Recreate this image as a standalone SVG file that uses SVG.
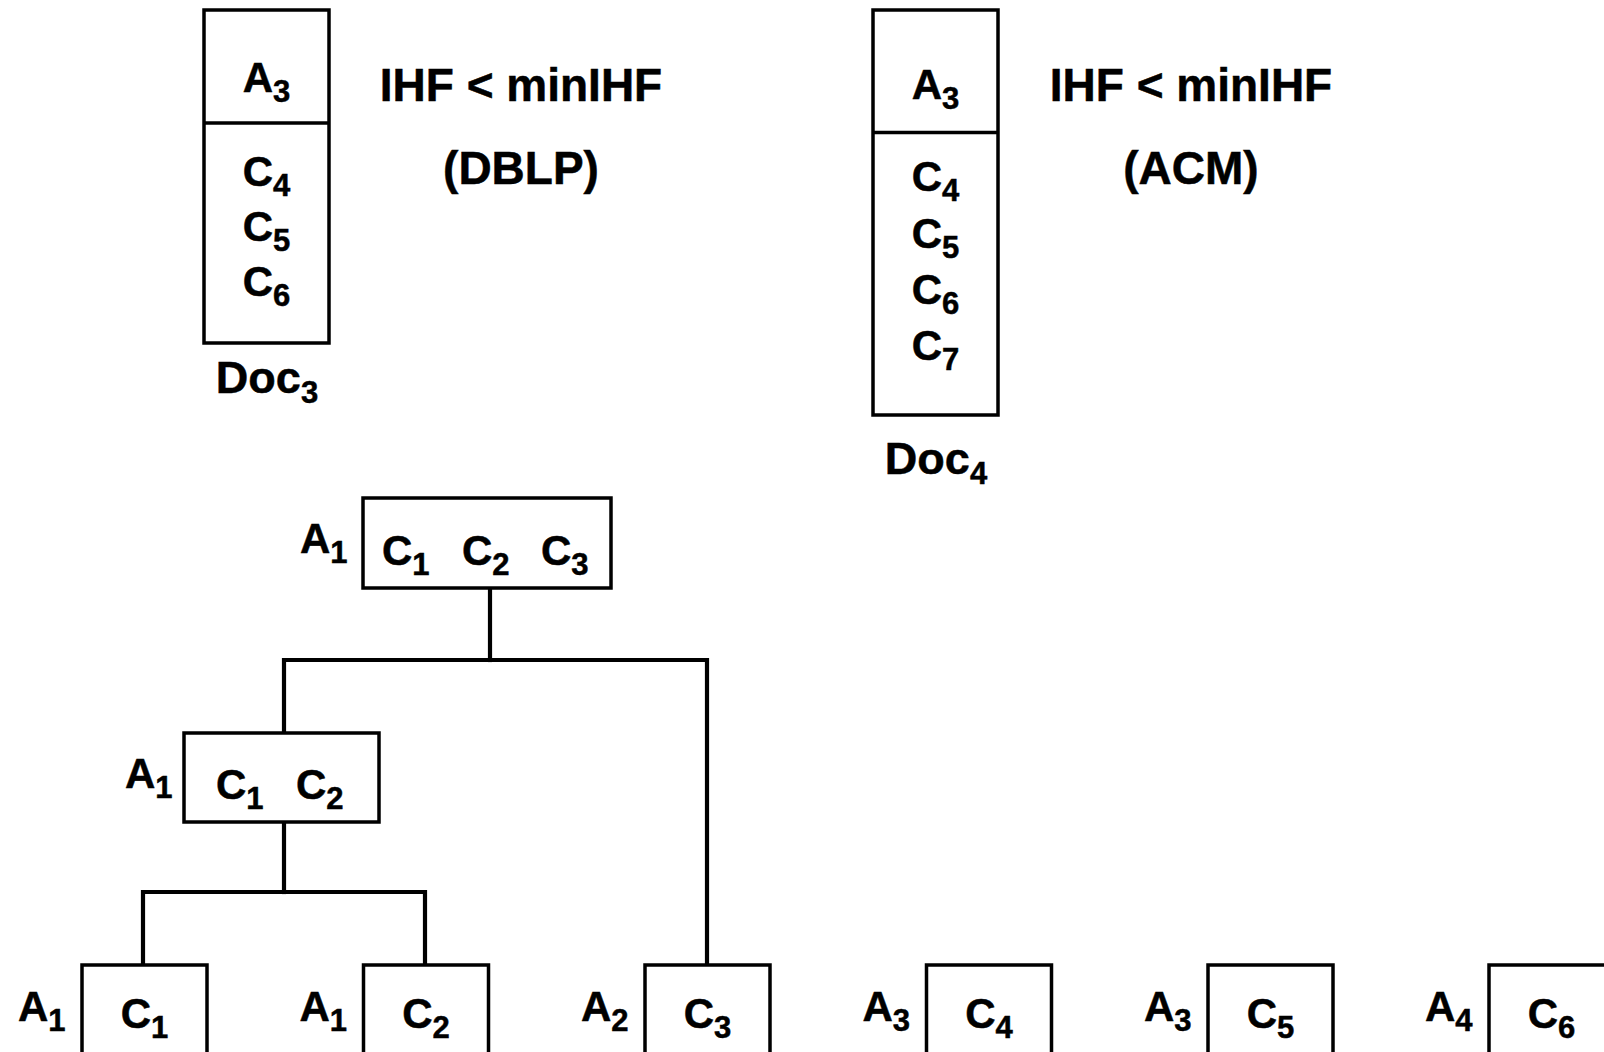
<svg xmlns="http://www.w3.org/2000/svg" width="1604" height="1052" viewBox="0 0 1604 1052">
  <style>
    text { font-family: "Liberation Sans", Arial, Helvetica, sans-serif; font-weight: bold; fill: #000; stroke: #000; stroke-width: 0.5; }
    .lbl { font-size: 42px; }
    .doc { font-size: 45px; }
    .big { font-size: 46px; }
    .sub { font-size: 31px; }
    .mid { text-anchor: middle; }
    .box { fill: #fff; stroke: #000; stroke-width: 3.5; }
    .div { stroke: #000; stroke-width: 3.5; }
    .edge { fill: none; stroke: #000; stroke-width: 4.2; stroke-linecap: square; stroke-linejoin: miter; }
  </style>

  <rect width="1604" height="1052" fill="#fff"/>

  <!-- Document 3: author A3 with citations C4..C6 -->
  <g id="doc3">
    <rect class="box" x="204" y="10" width="125" height="333"/>
    <line class="div" x1="204" y1="123" x2="329" y2="123"/>
    <text class="lbl mid" x="266.5" y="92">A<tspan class="sub" dy="10">3</tspan></text>
    <text class="lbl mid" x="266.5" y="186">C<tspan class="sub" dy="10">4</tspan></text>
    <text class="lbl mid" x="266.5" y="241">C<tspan class="sub" dy="10">5</tspan></text>
    <text class="lbl mid" x="266.5" y="296">C<tspan class="sub" dy="10">6</tspan></text>
    <text class="doc mid" x="267" y="393">Doc<tspan class="sub" dy="10">3</tspan></text>
  </g>
  <g id="note-dblp">
    <text class="big mid" x="521" y="101">IHF &lt; minIHF</text>
    <text class="big mid" x="521" y="184">(DBLP)</text>
  </g>

  <!-- Document 4: author A3 with citations C4..C7 -->
  <g id="doc4">
    <rect class="box" x="873" y="10" width="125" height="405"/>
    <line class="div" x1="873" y1="132.5" x2="998" y2="132.5"/>
    <text class="lbl mid" x="935.5" y="99">A<tspan class="sub" dy="10">3</tspan></text>
    <text class="lbl mid" x="935.5" y="191">C<tspan class="sub" dy="10">4</tspan></text>
    <text class="lbl mid" x="935.5" y="247.5">C<tspan class="sub" dy="10">5</tspan></text>
    <text class="lbl mid" x="935.5" y="304">C<tspan class="sub" dy="10">6</tspan></text>
    <text class="lbl mid" x="935.5" y="360">C<tspan class="sub" dy="10">7</tspan></text>
    <text class="doc mid" x="936" y="474">Doc<tspan class="sub" dy="10">4</tspan></text>
  </g>
  <g id="note-acm">
    <text class="big mid" x="1191" y="101">IHF &lt; minIHF</text>
    <text class="big mid" x="1191" y="184">(ACM)</text>
  </g>

  <!-- Tree connectors -->
  <g id="connectors">
    <path class="edge" d="M490 588 V660"/>
    <path class="edge" d="M284 733 V660 H707 V965"/>
    <path class="edge" d="M284 822 V892"/>
    <path class="edge" d="M143 965 V892 H425 V965"/>
  </g>

  <!-- Root cluster: A1 with C1 C2 C3 -->
  <g id="node-root">
    <rect class="box" x="363" y="498" width="248" height="90"/>
    <text class="lbl" x="300" y="553">A<tspan class="sub" dy="10">1</tspan></text>
    <text class="lbl" x="382" y="565">C<tspan class="sub" dy="10">1</tspan></text>
    <text class="lbl" x="462" y="565">C<tspan class="sub" dy="10">2</tspan></text>
    <text class="lbl" x="541" y="565">C<tspan class="sub" dy="10">3</tspan></text>
  </g>

  <!-- Intermediate cluster: A1 with C1 C2 -->
  <g id="node-mid">
    <rect class="box" x="184" y="733" width="195" height="89"/>
    <text class="lbl" x="125" y="788">A<tspan class="sub" dy="10">1</tspan></text>
    <text class="lbl" x="216" y="799">C<tspan class="sub" dy="10">1</tspan></text>
    <text class="lbl" x="296" y="799">C<tspan class="sub" dy="10">2</tspan></text>
  </g>

  <!-- Leaf citations -->
  <g id="leaf-c1">
    <rect class="box" x="82" y="965" width="125" height="110"/>
    <text class="lbl" x="18" y="1021">A<tspan class="sub" dy="10">1</tspan></text>
    <text class="lbl mid" x="144.5" y="1028">C<tspan class="sub" dy="10">1</tspan></text>
  </g>
  <g id="leaf-c2">
    <rect class="box" x="363.5" y="965" width="125" height="110"/>
    <text class="lbl" x="299.5" y="1021">A<tspan class="sub" dy="10">1</tspan></text>
    <text class="lbl mid" x="426" y="1028">C<tspan class="sub" dy="10">2</tspan></text>
  </g>
  <g id="leaf-c3">
    <rect class="box" x="645" y="965" width="125" height="110"/>
    <text class="lbl" x="581" y="1021">A<tspan class="sub" dy="10">2</tspan></text>
    <text class="lbl mid" x="707.5" y="1028">C<tspan class="sub" dy="10">3</tspan></text>
  </g>
  <g id="leaf-c4">
    <rect class="box" x="926.5" y="965" width="125" height="110"/>
    <text class="lbl" x="862.5" y="1021">A<tspan class="sub" dy="10">3</tspan></text>
    <text class="lbl mid" x="989" y="1028">C<tspan class="sub" dy="10">4</tspan></text>
  </g>
  <g id="leaf-c5">
    <rect class="box" x="1208" y="965" width="125" height="110"/>
    <text class="lbl" x="1144" y="1021">A<tspan class="sub" dy="10">3</tspan></text>
    <text class="lbl mid" x="1270.5" y="1028">C<tspan class="sub" dy="10">5</tspan></text>
  </g>
  <g id="leaf-c6">
    <rect class="box" x="1489" y="965" width="125" height="110"/>
    <text class="lbl" x="1425" y="1021">A<tspan class="sub" dy="10">4</tspan></text>
    <text class="lbl mid" x="1551.5" y="1028">C<tspan class="sub" dy="10">6</tspan></text>
  </g>
</svg>
